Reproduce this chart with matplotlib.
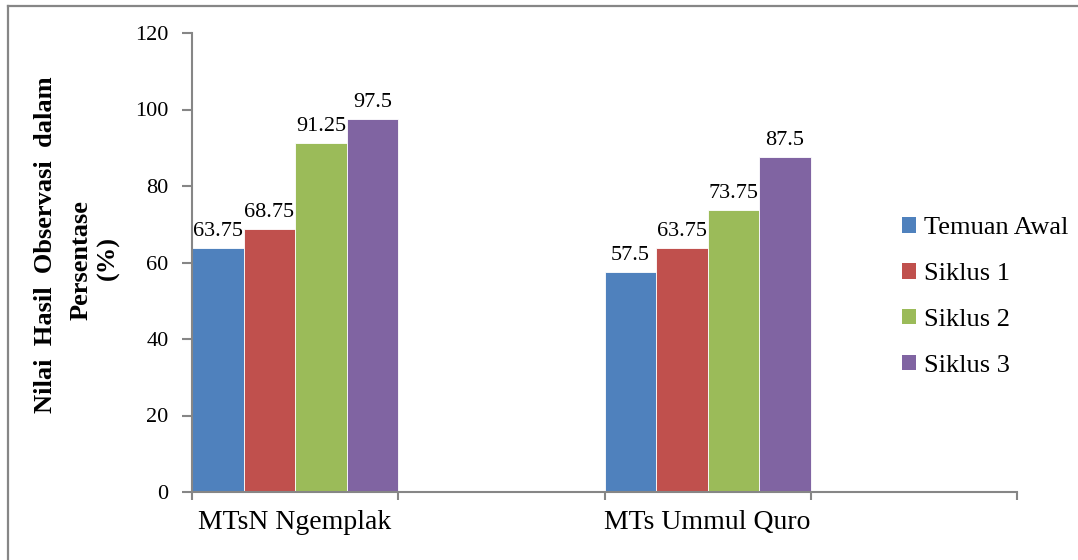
import numpy as np
import matplotlib
matplotlib.use("Agg")
import matplotlib.pyplot as plt
from matplotlib.lines import Line2D

categories = ["MTsN Ngemplak", "MTs Ummul Quro"]
series_names = ["Temuan Awal", "Siklus 1", "Siklus 2", "Siklus 3"]
temuan_awal = [63.75, 57.5]
siklus_1 = [68.75, 63.75]
siklus_2 = [91.25, 73.75]
siklus_3 = [97.5, 87.5]
y_ticks = [0, 20, 40, 60, 80, 100, 120]
colors = ["#4F81BD", "#C0504D", "#9BBB59", "#8064A2"]

plt.rcParams['font.family'] = ['Liberation Serif', 'DejaVu Serif']

W, H = 1078, 560
fig = plt.figure(figsize=(W / 100, H / 100), dpi=100)
ax = fig.add_axes([192 / W, 1 - 492 / H, (1017 - 192) / W, (492 - 33) / H])

series = [temuan_awal, siklus_1, siklus_2, siklus_3]
n = len(series)
bw = 1.0 / n
centers = np.arange(len(categories)) * 2  # each group followed by an empty category slot
for i, (name, vals, c) in enumerate(zip(series_names, series, colors)):
    xs = centers - 0.5 + bw * (i + 0.5)
    ax.bar(xs, vals, width=bw, color=c, edgecolor="white", linewidth=0.6, label=name)
    for x, v in zip(xs, vals):
        ax.annotate(f"{v:g}", (x, v), xytext=(0, 5), textcoords="offset points",
                    ha="center", va="bottom", fontsize=16, color="black")

ax.set_xlim(-0.5, 2 * len(categories) - 0.5)
ax.set_ylim(0, 120)
ax.set_yticks(y_ticks)
ax.set_yticklabels([str(t) for t in y_ticks], fontsize=16)

ax.set_xticks(np.arange(-0.5, 2 * len(categories), 1.0))
ax.set_xticklabels([])
ax.set_xticks(centers, minor=True)
ax.set_xticklabels(categories, minor=True, fontsize=20)
ax.tick_params(axis="x", which="minor", length=0, pad=13)
ax.tick_params(axis="x", which="major", length=6, width=1.5, color="#868686", direction="out")
ax.tick_params(axis="y", length=7, width=1.5, color="#868686", direction="out", pad=10)

for s in ["top", "right"]:
    ax.spines[s].set_visible(False)
for s in ["left", "bottom"]:
    ax.spines[s].set_color("#868686")
    ax.spines[s].set_linewidth(1.5)

# y-axis title (three rotated lines)
fig.text(46 / W, 1 - 245 / H, "Nilai  Hasil  Observasi  dalam", rotation=90,
         ha="center", va="center", fontsize=19, fontweight="bold")
fig.text(81 / W, 1 - 260 / H, "Persentase", rotation=90,
         ha="center", va="center", fontsize=19, fontweight="bold")
fig.text(108 / W, 1 - 258 / H, "(%)", rotation=90,
         ha="center", va="center", fontsize=19, fontweight="bold")

leg = ax.legend(loc="center left", bbox_to_anchor=(902 / W, 1 - 297 / H),
                bbox_transform=fig.transFigure, frameon=False, fontsize=19,
                handlelength=0.53, handleheight=0.53, handletextpad=0.3,
                labelspacing=0.9, borderpad=0, borderaxespad=0)
for h in leg.legend_handles:
    h.set_edgecolor("none")

# outer chart border (top and left visible)
fig.add_artist(Line2D([8 / W, 1.0], [1 - 6 / H, 1 - 6 / H], transform=fig.transFigure,
                      color="#868686", lw=1.6))
fig.add_artist(Line2D([8 / W, 8 / W], [0, 1 - 6 / H], transform=fig.transFigure,
                      color="#868686", lw=1.6))

fig.savefig("out.png", dpi=100)
